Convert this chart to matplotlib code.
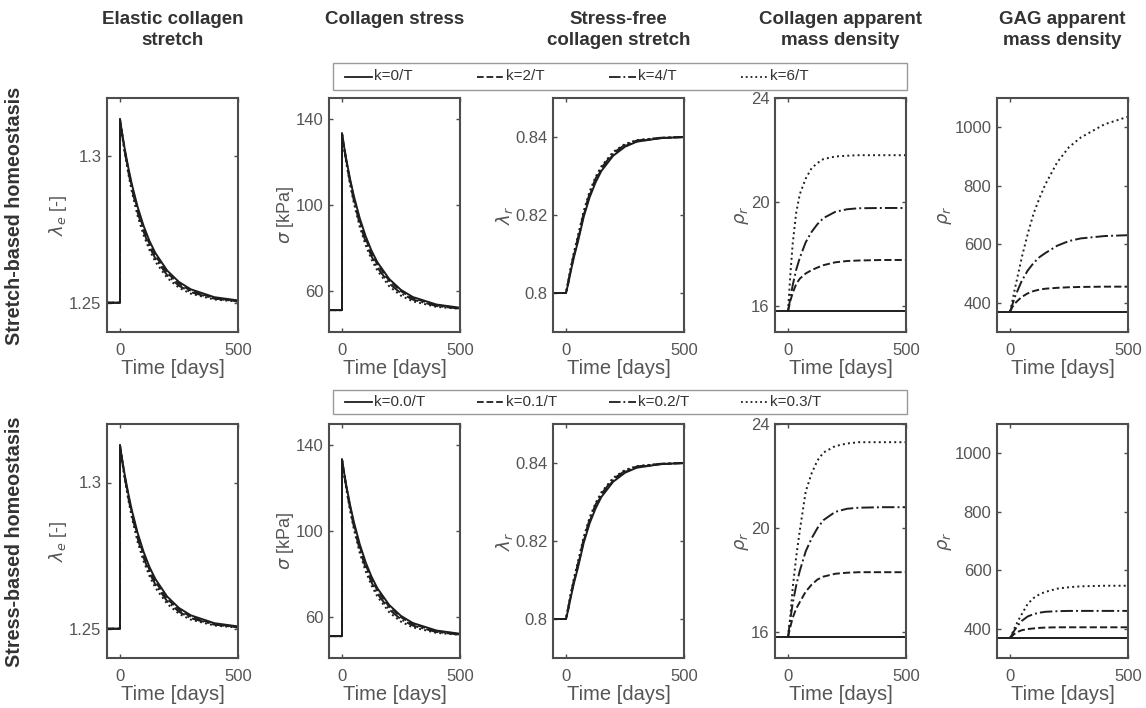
import matplotlib
matplotlib.use("Agg")
import matplotlib.pyplot as plt
from matplotlib.lines import Line2D
from matplotlib.patches import Rectangle

plt.rcParams['font.family'] = ['Liberation Sans', 'DejaVu Sans']
plt.rcParams['mathtext.fontset'] = 'dejavusans'

# ---------------- data ----------------
T = [0, 10, 20, 35, 50, 75, 100, 125, 150, 200, 250, 300, 400, 500]
T_START = -55

col_titles = ["Elastic collagen\nstretch", "Collagen stress", "Stress-free\ncollagen stretch",
              "Collagen apparent\nmass density", "GAG apparent\nmass density"]
row_titles = ["Stretch-based homeostasis", "Stress-based homeostasis"]
legend_row1 = ["k=0/T", "k=2/T", "k=4/T", "k=6/T"]
legend_row2 = ["k=0.0/T", "k=0.1/T", "k=0.2/T", "k=0.3/T"]

# Elastic collagen stretch (baseline before t=0)
lam_e_base = 1.25
lam_e_k0 = [1.3127, 1.3075, 1.3027, 1.2963, 1.2906, 1.2827, 1.2763, 1.2711, 1.2670, 1.2610, 1.2571, 1.2546, 1.2519, 1.2508]
lam_e_k1 = [1.3127, 1.3072, 1.3022, 1.2956, 1.2898, 1.2818, 1.2753, 1.2701, 1.2661, 1.2602, 1.2565, 1.2541, 1.2516, 1.2506]
lam_e_k2 = [1.3127, 1.3070, 1.3018, 1.2949, 1.2890, 1.2808, 1.2743, 1.2691, 1.2651, 1.2594, 1.2558, 1.2536, 1.2514, 1.2505]
lam_e_k3 = [1.3127, 1.3067, 1.3013, 1.2942, 1.2881, 1.2796, 1.2731, 1.2680, 1.2640, 1.2585, 1.2551, 1.2531, 1.2511, 1.2504]

# Collagen stress
sig_base = 51.2
sig_k0 = [133.5, 126.7, 120.3, 111.9, 104.5, 94.1, 85.7, 78.9, 73.5, 65.7, 60.6, 57.3, 53.8, 52.3]
sig_k1 = [133.5, 126.4, 119.8, 111.1, 103.6, 93.0, 84.6, 77.8, 72.5, 64.9, 60.0, 56.8, 53.5, 52.1]
sig_k2 = [133.5, 126.0, 119.2, 110.2, 102.4, 91.5, 83.1, 76.3, 71.0, 63.6, 59.0, 56.1, 53.1, 51.9]
sig_k3 = [133.5, 125.7, 118.6, 109.2, 101.2, 90.0, 81.5, 74.8, 69.6, 62.3, 57.9, 55.3, 52.7, 51.8]

# Stress-free collagen stretch
lam_r_base = 0.8
lam_r_k0 = [0.8, 0.8025, 0.8055, 0.8095, 0.8130, 0.8195, 0.8245, 0.8283, 0.8313, 0.8352, 0.8375, 0.8388, 0.8397, 0.8400]
lam_r_k1 = [0.8, 0.8027, 0.8058, 0.8100, 0.8135, 0.8200, 0.8250, 0.8288, 0.8317, 0.8355, 0.8377, 0.8389, 0.8397, 0.8400]
lam_r_k2 = [0.8, 0.8030, 0.8062, 0.8104, 0.8140, 0.8205, 0.8255, 0.8293, 0.8321, 0.8359, 0.8380, 0.8391, 0.8398, 0.8400]
lam_r_k3 = [0.8, 0.8032, 0.8065, 0.8108, 0.8145, 0.8210, 0.8260, 0.8297, 0.8325, 0.8362, 0.8382, 0.8392, 0.8398, 0.8400]

# Collagen apparent mass density, stretch-based row
rho_c1_k0 = 15.8
rho_c1_k1 = [15.8, 16.2, 16.5, 16.85, 17.05, 17.25, 17.38, 17.48, 17.57, 17.68, 17.73, 17.75, 17.77, 17.77]
rho_c1_k2 = [15.8, 16.3, 16.8, 17.4, 17.85, 18.45, 18.85, 19.15, 19.38, 19.62, 19.72, 19.76, 19.77, 19.77]
rho_c1_k3 = [15.8, 17.2, 18.4, 19.6, 20.3, 20.9, 21.3, 21.5, 21.65, 21.75, 21.78, 21.8, 21.8, 21.8]
# Collagen apparent mass density, stress-based row
rho_c2_k0 = 15.8
rho_c2_k1 = [15.8, 16.2, 16.55, 16.9, 17.15, 17.55, 17.82, 18.02, 18.13, 18.24, 18.28, 18.3, 18.3, 18.3]
rho_c2_k2 = [15.8, 16.5, 17.1, 17.8, 18.35, 19.1, 19.6, 20.0, 20.3, 20.62, 20.74, 20.78, 20.8, 20.8]
rho_c2_k3 = [15.8, 16.6, 17.7, 18.9, 19.9, 21.4, 22.1, 22.6, 22.9, 23.15, 23.25, 23.3, 23.3, 23.3]

# GAG apparent mass density, stretch-based row
rho_g1_k0 = 369
rho_g1_k1 = [369, 385, 397, 409, 420, 432, 440, 445, 448, 451, 453, 454, 455, 455]
rho_g1_k2 = [369, 393, 418, 447, 475, 510, 536, 556, 570, 595, 611, 620, 628, 631]
rho_g1_k3 = [369, 405, 445, 500, 555, 635, 705, 758, 805, 880, 932, 965, 1010, 1036]
# GAG apparent mass density, stress-based row
rho_g2_k0 = 368
rho_g2_k1 = [368, 376, 383, 390, 395, 399, 401, 403, 404, 405, 405, 405, 405, 405]
rho_g2_k2 = [368, 382, 396, 413, 427, 442, 450, 455, 458, 460, 461, 461, 461, 461]
rho_g2_k3 = [368, 385, 403, 428, 450, 485, 505, 518, 526, 537, 542, 545, 547, 547]

ylabels = [r'$\lambda_e$ [-]', r'$\sigma$ [kPa]', r'$\lambda_r$', r'$\rho_r$', r'$\rho_r$']
ylims = [(1.24, 1.32), (41, 150), (0.79, 0.85), (15, 24), (300, 1100)]
yticks = [[1.25, 1.3], [60, 100, 140], [0.8, 0.82, 0.84], [16, 20, 24], [400, 600, 800, 1000]]
yticklabels = [["1.25", "1.3"], ["60", "100", "140"], ["0.8", "0.82", "0.84"],
               ["16", "20", "24"], ["400", "600", "800", "1000"]]

styles = ['-', '--', '-.', ':']
LINE_C = '#1e1e1e'
AX_C = '#4d4d4d'
TXT_C = '#555555'
TITLE_C = '#333333'

# ---------------- figure ----------------
W, H = 1146, 708
fig = plt.figure(figsize=(W / 100, H / 100), dpi=100)

col_left = [107, 329, 553, 775, 997]
ax_w = 131
row_top = [98, 424]
ax_h = 234

step_sets = [
    [(lam_e_base, [lam_e_k0, lam_e_k1, lam_e_k2, lam_e_k3]),
     (sig_base, [sig_k0, sig_k1, sig_k2, sig_k3]),
     (lam_r_base, [lam_r_k0, lam_r_k1, lam_r_k2, lam_r_k3])],
    [(lam_e_base, [lam_e_k0, lam_e_k1, lam_e_k2, lam_e_k3]),
     (sig_base, [sig_k0, sig_k1, sig_k2, sig_k3]),
     (lam_r_base, [lam_r_k0, lam_r_k1, lam_r_k2, lam_r_k3])],
]
rho_sets = [
    [(rho_c1_k0, [rho_c1_k1, rho_c1_k2, rho_c1_k3]), (rho_g1_k0, [rho_g1_k1, rho_g1_k2, rho_g1_k3])],
    [(rho_c2_k0, [rho_c2_k1, rho_c2_k2, rho_c2_k3]), (rho_g2_k0, [rho_g2_k1, rho_g2_k2, rho_g2_k3])],
]

for r in range(2):
    for c in range(5):
        l = col_left[c] / W
        b = 1 - (row_top[r] + ax_h) / H
        ax = fig.add_axes([l, b, ax_w / W, ax_h / H])
        if c < 3:
            base, series = step_sets[r][c]
            for s, ys in zip(styles, series):
                ax.plot([T_START, 0] + T, [base, base] + ys, ls=s, color=LINE_C, lw=1.4)
        else:
            base, series = rho_sets[r][c - 3]
            ax.plot([T_START, T[-1]], [base, base], ls='-', color=LINE_C, lw=1.4)
            for s, ys in zip(styles[1:], series):
                ax.plot(T, ys, ls=s, color=LINE_C, lw=1.4)
        ax.set_xlim(T_START, 500)
        ax.set_ylim(*ylims[c])
        ax.set_xticks([0, 500])
        ax.set_xticklabels(["0", "500"])
        ax.set_yticks(yticks[c])
        ax.set_yticklabels(yticklabels[c])
        ax.tick_params(direction='in', top=True, right=True, length=3, width=1,
                       color=AX_C, labelcolor=TXT_C, labelsize=12)
        ax.tick_params(axis='x', pad=8)
        ax.tick_params(axis='y', pad=4)
        for sp in ax.spines.values():
            sp.set_color(AX_C)
            sp.set_linewidth(1.5)
        ax.set_xlabel("Time [days]", color=TXT_C, fontsize=14.5, labelpad=1)
        ax.set_ylabel(ylabels[c], color=TXT_C, fontsize=13, labelpad=0)
        if r == 0:
            fig.text((col_left[c] + ax_w / 2) / W, 1 - 11 / H, col_titles[c], ha='center', va='top',
                     fontsize=13.5, fontweight='bold', color=TITLE_C, linespacing=1.3)

# row titles
for r in range(2):
    yc = 1 - (row_top[r] + ax_h / 2 + 1) / H
    fig.text(15 / W, yc, row_titles[r], rotation=90, ha='center', va='center',
             fontsize=14.2, fontweight='bold', color=TITLE_C)

# legends (MATLAB-like horizontal legend with fixed column spacing)
leg_boxes = [(333, 63, 907, 90), (333, 390, 907, 414)]
entry_x0 = 345
entry_dx = 132
handle_len = 27
for r, labels in enumerate([legend_row1, legend_row2]):
    x0, y0, x1, y1 = leg_boxes[r]
    fig.patches.append(Rectangle((x0 / W, 1 - y1 / H), (x1 - x0) / W, (y1 - y0) / H,
                                 transform=fig.transFigure, fill=True, facecolor='white',
                                 edgecolor='#9a9a9a', lw=1.0))
    yc = 1 - (y0 + y1) / 2 / H
    for i, (s, lab) in enumerate(zip(styles, labels)):
        xs = entry_x0 + entry_dx * i
        fig.add_artist(Line2D([xs / W, (xs + handle_len) / W], [yc, yc], ls=s,
                              color=LINE_C, lw=1.3, transform=fig.transFigure))
        fig.text((xs + handle_len + 2) / W, yc, lab, ha='left', va='center',
                 fontsize=11, color=TITLE_C)

fig.savefig("out.png", dpi=100)
